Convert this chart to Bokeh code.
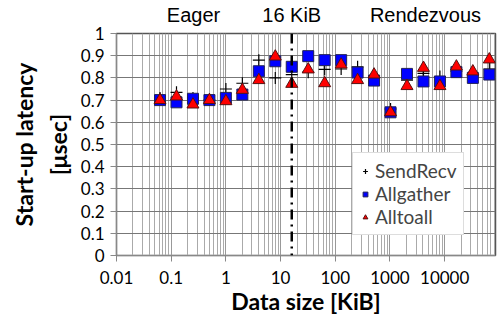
from bokeh.plotting import figure
from bokeh.models import (FixedTicker, Span, Legend, LegendItem, LogAxis,
                          CustomJSTickFormatter)
from bokeh.embed import file_html
from bokeh.resources import INLINE

sizes = [0.0625, 0.125, 0.25, 0.5, 1, 2, 4, 8, 16, 32, 64, 128, 256, 512,
         1024, 2048, 4096, 8192, 16384, 32768, 65536]
sendrecv = [0.71, 0.735, 0.71, 0.70, 0.75, 0.776, 0.88, 0.80, 0.815, 0.826,
            0.838, 0.84, 0.85, 0.80, 0.66, 0.79, 0.82, 0.806, 0.83, 0.81, 0.84]
allgather = [0.70, 0.69, 0.706, 0.70, 0.71, 0.725, 0.83, 0.875, 0.85, 0.898,
             0.88, 0.88, 0.824, 0.788, 0.645, 0.818, 0.784, 0.784, 0.826,
             0.80, 0.815]
alltoall = [0.70, 0.716, 0.68, 0.70, 0.695, 0.746, 0.79, 0.896, 0.773, 0.838,
            0.776, 0.86, 0.79, 0.815, 0.645, 0.763, 0.845, 0.763, 0.851,
            0.829, 0.883]
x_ticks = [0.01, 0.1, 1, 10, 100, 1000, 10000]
y_ticks = [0, 0.1, 0.2, 0.3, 0.4, 0.5, 0.6, 0.7, 0.8, 0.9, 1.0]
threshold = 16
region_labels = ["Eager", "16 KiB", "Rendezvous"]
region_pos = [0.256, threshold, 4460]

minor = [m * d for d in [0.01, 0.1, 1, 10, 100, 1000, 10000] for m in range(2, 10)]

FONT = "Lato"

p = figure(width=498, height=322, x_axis_type="log", x_range=(0.01, 85000),
           y_range=(0, 1), output_backend="svg", toolbar_location=None,
           min_border_left=116, min_border_right=3, min_border_top=33,
           min_border_bottom=67)
p.outline_line_color = "#555555"
p.outline_line_width = 1.5
p.background_fill_color = "white"
p.border_fill_color = "white"

p.xaxis.ticker = FixedTicker(ticks=x_ticks, minor_ticks=minor)
p.yaxis.ticker = FixedTicker(ticks=y_ticks)
p.xaxis.formatter = CustomJSTickFormatter(code="return String(tick);")
p.yaxis.formatter = CustomJSTickFormatter(code="return tick === 0 ? '0' : (tick === 1 ? '1' : tick.toFixed(1));")

p.xgrid.grid_line_color = "#999999"
p.xgrid.grid_line_width = 1
p.xgrid.minor_grid_line_color = "#aaaaaa"
p.xgrid.minor_grid_line_width = 1
p.ygrid.grid_line_color = "#777777"
p.ygrid.grid_line_width = 1

for ax in (p.xaxis, p.yaxis):
    ax.axis_line_color = "#888888"
    ax.major_tick_line_color = "#888888"
    ax.major_tick_out = 6
    ax.major_tick_in = 0
    ax.minor_tick_line_color = None
    ax.major_label_text_font = FONT
    ax.major_label_text_font_size = "17px"
    ax.major_label_text_color = "black"
    ax.axis_label_text_font = FONT
    ax.axis_label_text_font_style = "bold"
    ax.axis_label_text_font_size = "23px"
    ax.axis_label_text_color = "black"

p.xaxis.axis_label = "Data size [KiB]"
p.xaxis.major_label_standoff = 9
p.xaxis.axis_label_standoff = 0
p.yaxis.axis_label = "Start-up latency\n[\u03bcsec]"
p.yaxis.major_label_standoff = 6
p.yaxis.axis_label_standoff = 6

# Region labels above the plot, as an extra top axis
top_axis = LogAxis(ticker=FixedTicker(ticks=region_pos, minor_ticks=[]),
                   formatter=CustomJSTickFormatter(
                       args=dict(pos=region_pos, labels=region_labels),
                       code="""
const i = pos.findIndex(t => Math.abs(t - tick) / t < 1e-6);
return i >= 0 ? labels[i] : '';
"""))
top_axis.axis_line_color = None
top_axis.major_tick_line_color = None
top_axis.minor_tick_line_color = None
top_axis.major_tick_out = 0
top_axis.major_tick_in = 0
top_axis.major_label_standoff = 8
top_axis.major_label_text_font = "Liberation Sans"
top_axis.major_label_text_font_size = "20px"
top_axis.major_label_text_color = "black"
p.add_layout(top_axis, "above")

span = Span(location=threshold, dimension="height", line_color="black",
            line_width=2.5, line_dash="10 5 2 5")
p.add_layout(span)

r_sr = p.scatter(sizes, sendrecv, marker="cross", size=12, line_color="black",
                 line_width=1.2)
r_ag = p.scatter(sizes, allgather, marker="square", size=11, fill_color="#0000ff",
                 line_color="#222255", line_width=1)
r_aa = p.scatter(sizes, alltoall, marker="triangle", size=12, fill_color="#ff0000",
                 line_color="#551111", line_width=1)

legend = Legend(items=[LegendItem(label="SendRecv", renderers=[r_sr]),
                       LegendItem(label="Allgather", renderers=[r_ag]),
                       LegendItem(label="Alltoall", renderers=[r_aa])],
                location=(236, 20))
legend.label_text_font = FONT
legend.label_text_font_size = "19px"
legend.border_line_color = "#bbbbbb"
legend.border_line_width = 1
legend.background_fill_alpha = 1
legend.glyph_width = 12
legend.label_standoff = 4
legend.spacing = 0
legend.padding = 6
legend.margin = 0
legend.label_height = 22
legend.glyph_height = 22
p.add_layout(legend)

open("out.html", "w").write(file_html(p, INLINE))
